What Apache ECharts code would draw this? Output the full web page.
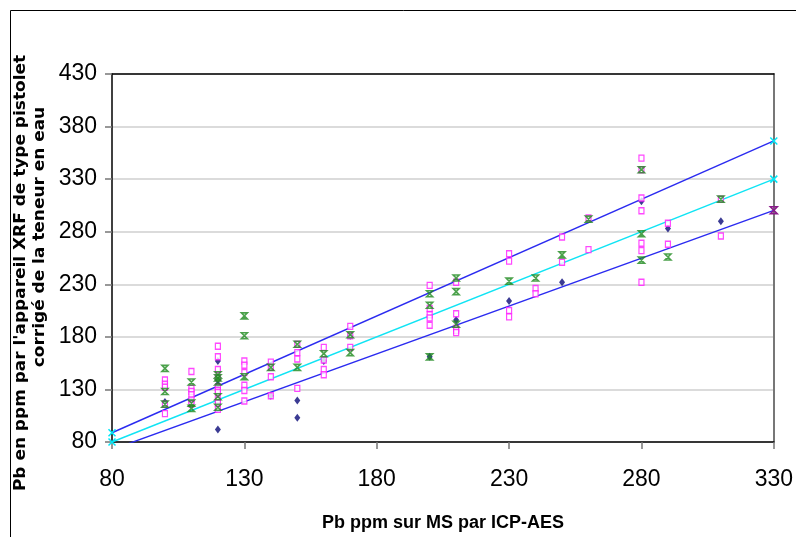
<!DOCTYPE html>
<html>
<head>
<meta charset="utf-8">
<script src="https://cdn.jsdelivr.net/npm/echarts@6/dist/echarts.min.js"></script>
<style>
  html, body { margin: 0; padding: 0; background: #fff; }
  #chart { width: 796px; height: 537px; }
</style>
</head>
<body>
<div id="chart"></div>
<script>
// Pb measured by handheld XRF (water-corrected) vs. Pb on dry matter by ICP-AES
const xTicks = [80, 130, 180, 230, 280, 330];
const yTicks = [80, 130, 180, 230, 280, 330, 380, 430];

// [ICP-AES, XRF] pairs per sample group
const diamondPts = [
  [100, 118], [110, 119], [120, 157], [120, 135], [120, 92], [140, 124],
  [150, 119.5], [150, 103], [160, 157], [170, 181], [200, 161], [210, 196],
  [230, 214], [250, 232], [280, 309], [290, 283], [310, 290]
];
const squarePts = [
  [100, 139], [100, 135], [100, 132], [100, 116], [100, 107],
  [110, 147], [110, 131], [110, 128], [110, 125], [110, 120], [110, 116],
  [120, 171], [120, 161], [120, 149], [120, 141], [120, 132], [120, 129], [120, 127], [120, 120], [120, 117], [120, 111],
  [130, 157], [130, 153], [130, 146], [130, 134], [130, 129], [130, 119],
  [140, 156], [140, 151], [140, 142], [140, 124],
  [150, 173], [150, 165], [150, 159], [150, 131],
  [160, 170], [160, 158], [160, 149], [160, 144],
  [170, 190], [170, 181], [170, 170],
  [200, 229], [200, 207], [200, 201], [200, 198], [200, 191],
  [210, 232], [210, 202], [210, 188], [210, 186], [210, 184],
  [230, 259], [230, 252], [230, 205], [230, 199],
  [240, 226], [240, 221],
  [250, 275], [250, 251],
  [260, 293], [260, 263],
  [280, 350], [280, 339], [280, 312], [280, 300], [280, 269], [280, 262], [280, 232],
  [290, 288], [290, 268],
  [310, 311], [310, 276]
];
const starPts = [
  [100, 150], [100, 128], [100, 116],
  [110, 137], [110, 117], [110, 112],
  [120, 144], [120, 141], [120, 137], [120, 123], [120, 113],
  [130, 200], [130, 181], [130, 142],
  [140, 151],
  [150, 173], [150, 151],
  [160, 164],
  [170, 182], [170, 165],
  [200, 221], [200, 210], [200, 161],
  [210, 236], [210, 223], [210, 192],
  [230, 233], [240, 236], [250, 258], [260, 292],
  [280, 339], [280, 278], [280, 253],
  [290, 256], [310, 311]
];

// reference lines: y = x and the +/- band
const lineEnds = [80, 330];
const upperSlope = 1.11;
const lowerSlope = 0.91;
const refLine = (k) => lineEnds.map(x => [x, +(k * x).toFixed(1)]);

const crossPath = 'path://M0,0L10,10M10,0L0,10';
const hourglassPath = 'path://M0,0L10,0L0,10L10,10Z';

const tickFont = "'Liberation Sans Narrow', 'Arial Narrow', 'Liberation Sans', Arial, sans-serif";
const titleFont = "'DejaVu Sans', 'Liberation Sans', Arial, sans-serif";

const chart = echarts.init(document.getElementById('chart'), null, { renderer: 'canvas' });

chart.setOption({
  animation: false,
  backgroundColor: '#fff',
  grid: { left: 112, right: 21, top: 74, bottom: 95 },
  xAxis: [{
    type: 'value', min: xTicks[0], max: xTicks[xTicks.length - 1], interval: 50,
    axisLine: { lineStyle: { color: '#000', width: 1.5 } },
    axisTick: { show: true, length: 7, lineStyle: { color: '#777', width: 1.5 } },
    axisLabel: { margin: 26, fontFamily: tickFont, fontSize: 23, color: '#000' },
    splitLine: { show: false },
    name: 'Pb ppm sur MS par ICP-AES', nameLocation: 'middle', nameGap: 72,
    nameTextStyle: { fontFamily: tickFont, fontWeight: 'bold', fontSize: 18, color: '#000' }
  }, {
    type: 'value', position: 'top', min: xTicks[0], max: xTicks[xTicks.length - 1], interval: 50,
    axisLine: { show: true, lineStyle: { color: '#000', width: 1.5 } },
    axisTick: { show: false }, axisLabel: { show: false }, splitLine: { show: false }
  }],
  yAxis: [{
    type: 'value', min: yTicks[0], max: yTicks[yTicks.length - 1], interval: 50,
    axisLine: { show: true, lineStyle: { color: '#000', width: 1.5 } },
    axisTick: { show: true, length: 7, lineStyle: { color: '#777', width: 1.5 } },
    axisLabel: { margin: 15, fontFamily: tickFont, fontSize: 23, color: '#000' },
    splitLine: { show: true, lineStyle: { color: '#cfcfcf', width: 1.5 } }
  }, {
    type: 'value', position: 'right', min: yTicks[0], max: yTicks[yTicks.length - 1], interval: 50,
    axisLine: { show: true, lineStyle: { color: '#777', width: 2 } },
    axisTick: { show: false }, axisLabel: { show: false }, splitLine: { show: false }
  }],
  graphic: [
    { type: 'rect', left: 8, top: 8, shape: { width: 900, height: 700 },
      style: { fill: 'none', stroke: '#000', lineWidth: 1 }, silent: true, z: -1 },
    { type: 'text', x: 21, y: 273, rotation: Math.PI / 2, scaleX: 1.13,
      style: { text: "Pb en ppm par l'appareil XRF de type pistolet", font: "bold 15px " + titleFont,
               fill: '#000', textAlign: 'center', textVerticalAlign: 'middle' } },
    { type: 'text', x: 40, y: 237, rotation: Math.PI / 2, scaleX: 1.13,
      style: { text: 'corrigé de la teneur en eau', font: "bold 15px " + titleFont,
               fill: '#000', textAlign: 'center', textVerticalAlign: 'middle' } }
  ],
  series: [
    {
      name: 'ref+', type: 'line', data: refLine(upperSlope), clip: true,
      symbol: crossPath, symbolSize: 7, showSymbol: true,
      lineStyle: { color: '#2b2bf0', width: 1.4 },
      itemStyle: { color: 'rgba(0,0,0,0)', borderColor: '#00e8f8', borderWidth: 1.5 }, z: 3
    },
    {
      name: 'ref', type: 'line', data: refLine(1), clip: true,
      symbol: crossPath, symbolSize: 7, showSymbol: true,
      lineStyle: { color: '#10e4f4', width: 1.4 },
      itemStyle: { color: 'rgba(0,0,0,0)', borderColor: '#00e8f8', borderWidth: 1.5 }, z: 3
    },
    {
      name: 'ref-', type: 'line', data: refLine(lowerSlope), clip: true,
      symbol: hourglassPath, symbolSize: 7, showSymbol: true,
      lineStyle: { color: '#2b2bf0', width: 1.4 },
      itemStyle: { color: 'rgba(0,0,0,0)', borderColor: '#8a1a8a', borderWidth: 1.5 }, z: 3
    },
    {
      name: 'diamond', type: 'scatter', data: diamondPts,
      symbol: 'diamond', symbolSize: [6, 8],
      itemStyle: { color: '#0a0a78' }, z: 4
    },
    {
      name: 'square', type: 'scatter', data: squarePts,
      symbol: 'rect', symbolSize: [5, 6],
      itemStyle: { color: '#fff', borderColor: '#ff1aff', borderWidth: 1.3 }, z: 5
    },
    {
      name: 'star', type: 'scatter', data: starPts,
      symbol: hourglassPath, symbolSize: 6,
      itemStyle: { color: 'rgba(0,0,0,0)', borderColor: '#1e8a1e', borderWidth: 1.6 }, z: 6
    }
  ]
});
</script>
</body>
</html>
